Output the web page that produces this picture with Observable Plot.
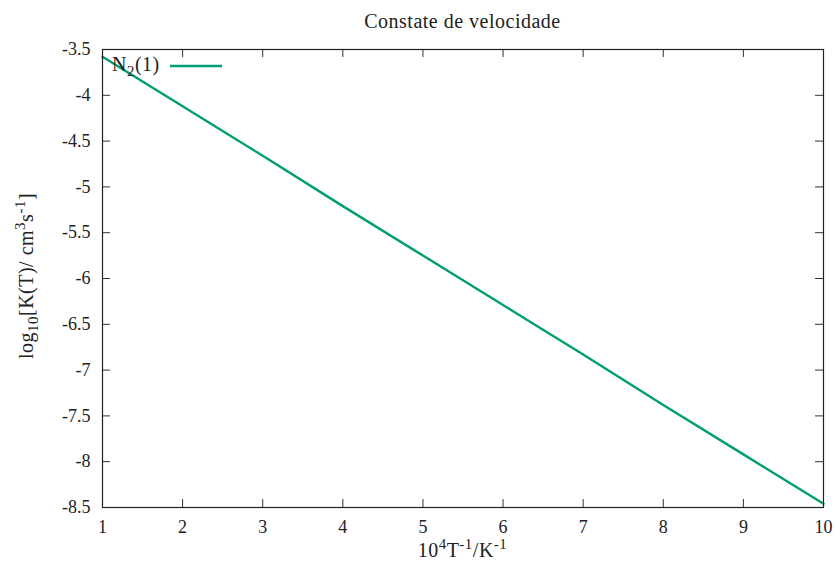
<!DOCTYPE html>
<html><head><meta charset="utf-8">
<script src="https://cdn.jsdelivr.net/npm/d3@7"></script>
<script src="https://cdn.jsdelivr.net/npm/@observablehq/plot@0.6"></script>
<style>body{margin:0;background:#fff}</style>
</head><body><div id="chart"></div>
<script>
const xValues = [1, 2, 3, 4, 5, 6, 7, 8, 9, 10];
const logK = [-3.58, -4.12, -4.66, -5.21, -5.75, -6.29, -6.83, -7.38, -7.92, -8.46];
const xTicks = [1, 2, 3, 4, 5, 6, 7, 8, 9, 10];
const yTicks = [-3.5, -4, -4.5, -5, -5.5, -6, -6.5, -7, -7.5, -8, -8.5];
const titleText = "Constate de velocidade";

const W = 835, H = 565, ML = 102, MR = 12, MT = 49, MB = 58;
const PW = W - ML - MR, PH = H - MT - MB, TL = 8;
const data = xValues.map((x, i) => ({x, y: logK[i]}));
const font = "Liberation Serif";

const svg = Plot.plot({
  width: W, height: H,
  marginLeft: ML, marginRight: MR, marginTop: MT, marginBottom: MB,
  style: {fontFamily: font, fontSize: "18px", background: "#fff", color: "#222"},
  x: {domain: [1, 10]},
  y: {domain: [-8.5, -3.5]},
  marks: [
    Plot.ruleX(xTicks, {x: d => d, insetTop: PH - TL, stroke: "#333"}),
    Plot.ruleX(xTicks, {x: d => d, insetBottom: PH - TL, stroke: "#333"}),
    Plot.ruleY(yTicks, {y: d => d, insetRight: PW - TL, stroke: "#333"}),
    Plot.ruleY(yTicks, {y: d => d, insetLeft: PW - TL, stroke: "#333"}),
    Plot.line(data, {x: "x", y: "y", stroke: "#009e73", strokeWidth: 2.4}),
    Plot.frame({stroke: "#222", strokeWidth: 1.2}),
    Plot.axisX(xTicks, {tickSize: 0, tickPadding: 13, tickFormat: d => String(d), label: null, fill: "#222"}),
    Plot.axisY(yTicks, {tickSize: 0, tickPadding: 12, tickFormat: d => String(d), label: null, fill: "#222"})
  ]
});

const s = d3.select(svg);
const LS = "0.5px";
s.append("text").attr("x", ML + PW / 2).attr("y", 28).attr("text-anchor", "middle")
  .attr("fill", "#222").style("font-size", "20px").style("letter-spacing", LS).text(titleText);

function rich(t, parts) {
  let shift = 0;
  parts.forEach(([txt, kind]) => {
    const target = kind === "sup" ? -8 : kind === "sub" ? 5 : 0;
    const ts = t.append("tspan").attr("dy", target - shift).text(txt);
    if (kind) ts.style("font-size", "15px");
    shift = target;
  });
}

const xl = s.append("text").attr("x", ML + PW / 2).attr("y", 557).attr("text-anchor", "middle")
  .attr("fill", "#222").style("font-size", "20px").style("letter-spacing", LS);
rich(xl, [["10"], ["4", "sup"], ["T"], ["-1", "sup"], ["/K"], ["-1", "sup"]]);

const yl = s.append("text").attr("transform", `translate(33,${MT + PH / 2 - 2}) rotate(-90)`).attr("text-anchor", "middle")
  .attr("fill", "#222").style("font-size", "20px").style("letter-spacing", LS);
rich(yl, [["log"], ["10", "sub"], ["[K(T)/ cm"], ["3", "sup"], ["s"], ["-1", "sup"], ["]"]]);

const lg = s.append("text").attr("x", 112).attr("y", 71).attr("text-anchor", "start")
  .attr("fill", "#222").style("font-size", "20px").style("letter-spacing", LS);
rich(lg, [["N"], ["2", "sub"], ["(1)"]]);
s.append("line").attr("x1", 170).attr("x2", 222).attr("y1", 66).attr("y2", 66)
  .attr("stroke", "#009e73").attr("stroke-width", 2.4);

document.getElementById("chart").appendChild(svg);
</script></body></html>
